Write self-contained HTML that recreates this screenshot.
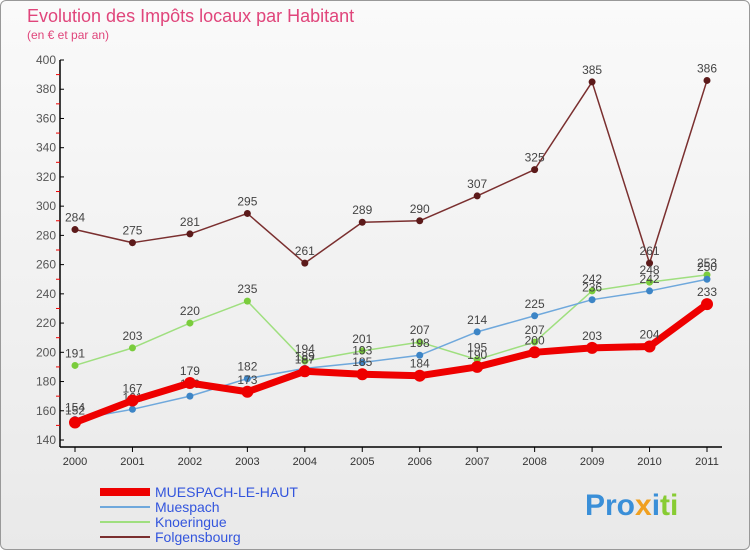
<!DOCTYPE html>
<html><head><meta charset="utf-8"><style>
body{margin:0;width:750px;height:550px;overflow:hidden;font-family:"Liberation Sans",sans-serif}
#c{position:absolute;left:0;top:0;width:748px;height:548px;border:1px solid #999;border-radius:6px;background:linear-gradient(#fafafa,#e9e9e9)}
</style></head><body>
<div id="c"></div>
<svg id="s" width="750" height="550" style="position:absolute;left:0;top:0">
<text x="27" y="22" font-size="18" fill="#e0457b">Evolution des Impôts locaux par Habitant</text>
<text x="27" y="39" font-size="12" fill="#e0457b">(en € et par an)</text>
<g id="g"></g>
<text x="585" y="515" font-size="30" font-weight="bold" fill="#3a8fd8">Pro<tspan fill="#f0a020">x</tspan><tspan fill="#3a8fd8">i</tspan><tspan fill="#8c3">ti</tspan></text>
</svg>
<script>
const years=[2000,2001,2002,2003,2004,2005,2006,2007,2008,2009,2010,2011];
const yTicks=[140,160,180,200,220,240,260,280,300,320,340,360,380,400];
const seriesNames=["MUESPACH-LE-HAUT","Muespach","Knoeringue","Folgensbourg"];
const muespachLeHaut=[152,167,179,173,187,185,184,190,200,203,204,233];
const muespach=[154,161,170,182,189,193,198,214,225,236,242,250];
const knoeringue=[191,203,220,235,194,201,207,195,207,242,248,253];
const folgensbourg=[284,275,281,295,261,289,290,307,325,385,261,386];
const NS="http://www.w3.org/2000/svg",g=document.getElementById('g');
const X=i=>75+i*(707-75)/11, Y=v=>440-(v-140)*380/260;
function el(t,a,p){const e=document.createElementNS(NS,t);for(const k in a)e.setAttribute(k,a[k]);(p||g).appendChild(e);return e;}
let ax=el('line',{x1:60,y1:60,x2:60,y2:447,stroke:'#000','stroke-width':1.5});


let bx=el('line',{x1:60,y1:447,x2:722,y2:447,stroke:'#000','stroke-width':1.5});


yTicks.forEach((v,i)=>{
 el('line',{x1:60,y1:Y(v),x2:64,y2:Y(v),stroke:'#000'});
 if(i<yTicks.length-1)el('line',{x1:56,y1:Y(v+10),x2:60,y2:Y(v+10),stroke:'#e00'});
 const t=el('text',{x:56,y:Y(v)+4,'font-size':12,fill:'#555','text-anchor':'end'});t.textContent=v;
 
 
});
years.forEach((y,i)=>{
 el('line',{x1:X(i),y1:447,x2:X(i),y2:452,stroke:'#000'});
 const t=el('text',{x:X(i),y:465,'font-size':11,fill:'#333','text-anchor':'middle'});t.textContent=y;
 
 
});
const styles=[{d:muespachLeHaut,c:'#ee0000',w:7,r:6,f:'#ee0000'},{d:muespach,c:'#6fa8dc',w:1.5,r:3.5,f:'#3d85c6'},{d:knoeringue,c:'#9fdf7f',w:1.5,r:3.5,f:'#7acc3c'},{d:folgensbourg,c:'#7a2f2f',w:1.5,r:3.5,f:'#5c1a1a'}];
[3,2,1,0].forEach(k=>{
 const s=styles[k];
 const p=el('polyline',{points:s.d.map((v,i)=>X(i)+','+Y(v)).join(' '),fill:'none',stroke:s.c,'stroke-width':s.w,'stroke-linejoin':'round'});
 
 
 s.d.forEach((v,i)=>{
  const c=el('circle',{cx:X(i),cy:Y(v),r:s.r,fill:s.f});
  
  
  const t=el('text',{x:X(i),y:Y(v)-8,'font-size':12,fill:'#444','text-anchor':'middle'});t.textContent=v;
  
  
 });
});
styles.forEach((s,k)=>{
 const y=492+k*15;
 const l=el('line',{x1:100,y1:y,x2:150,y2:y,stroke:s.c,'stroke-width':k==0?8:2});
 
 
 const t=el('text',{x:155,y:y+5,'font-size':14,fill:'#3355dd'});t.textContent=seriesNames[k];
 
 
});
</script>
</body></html>
